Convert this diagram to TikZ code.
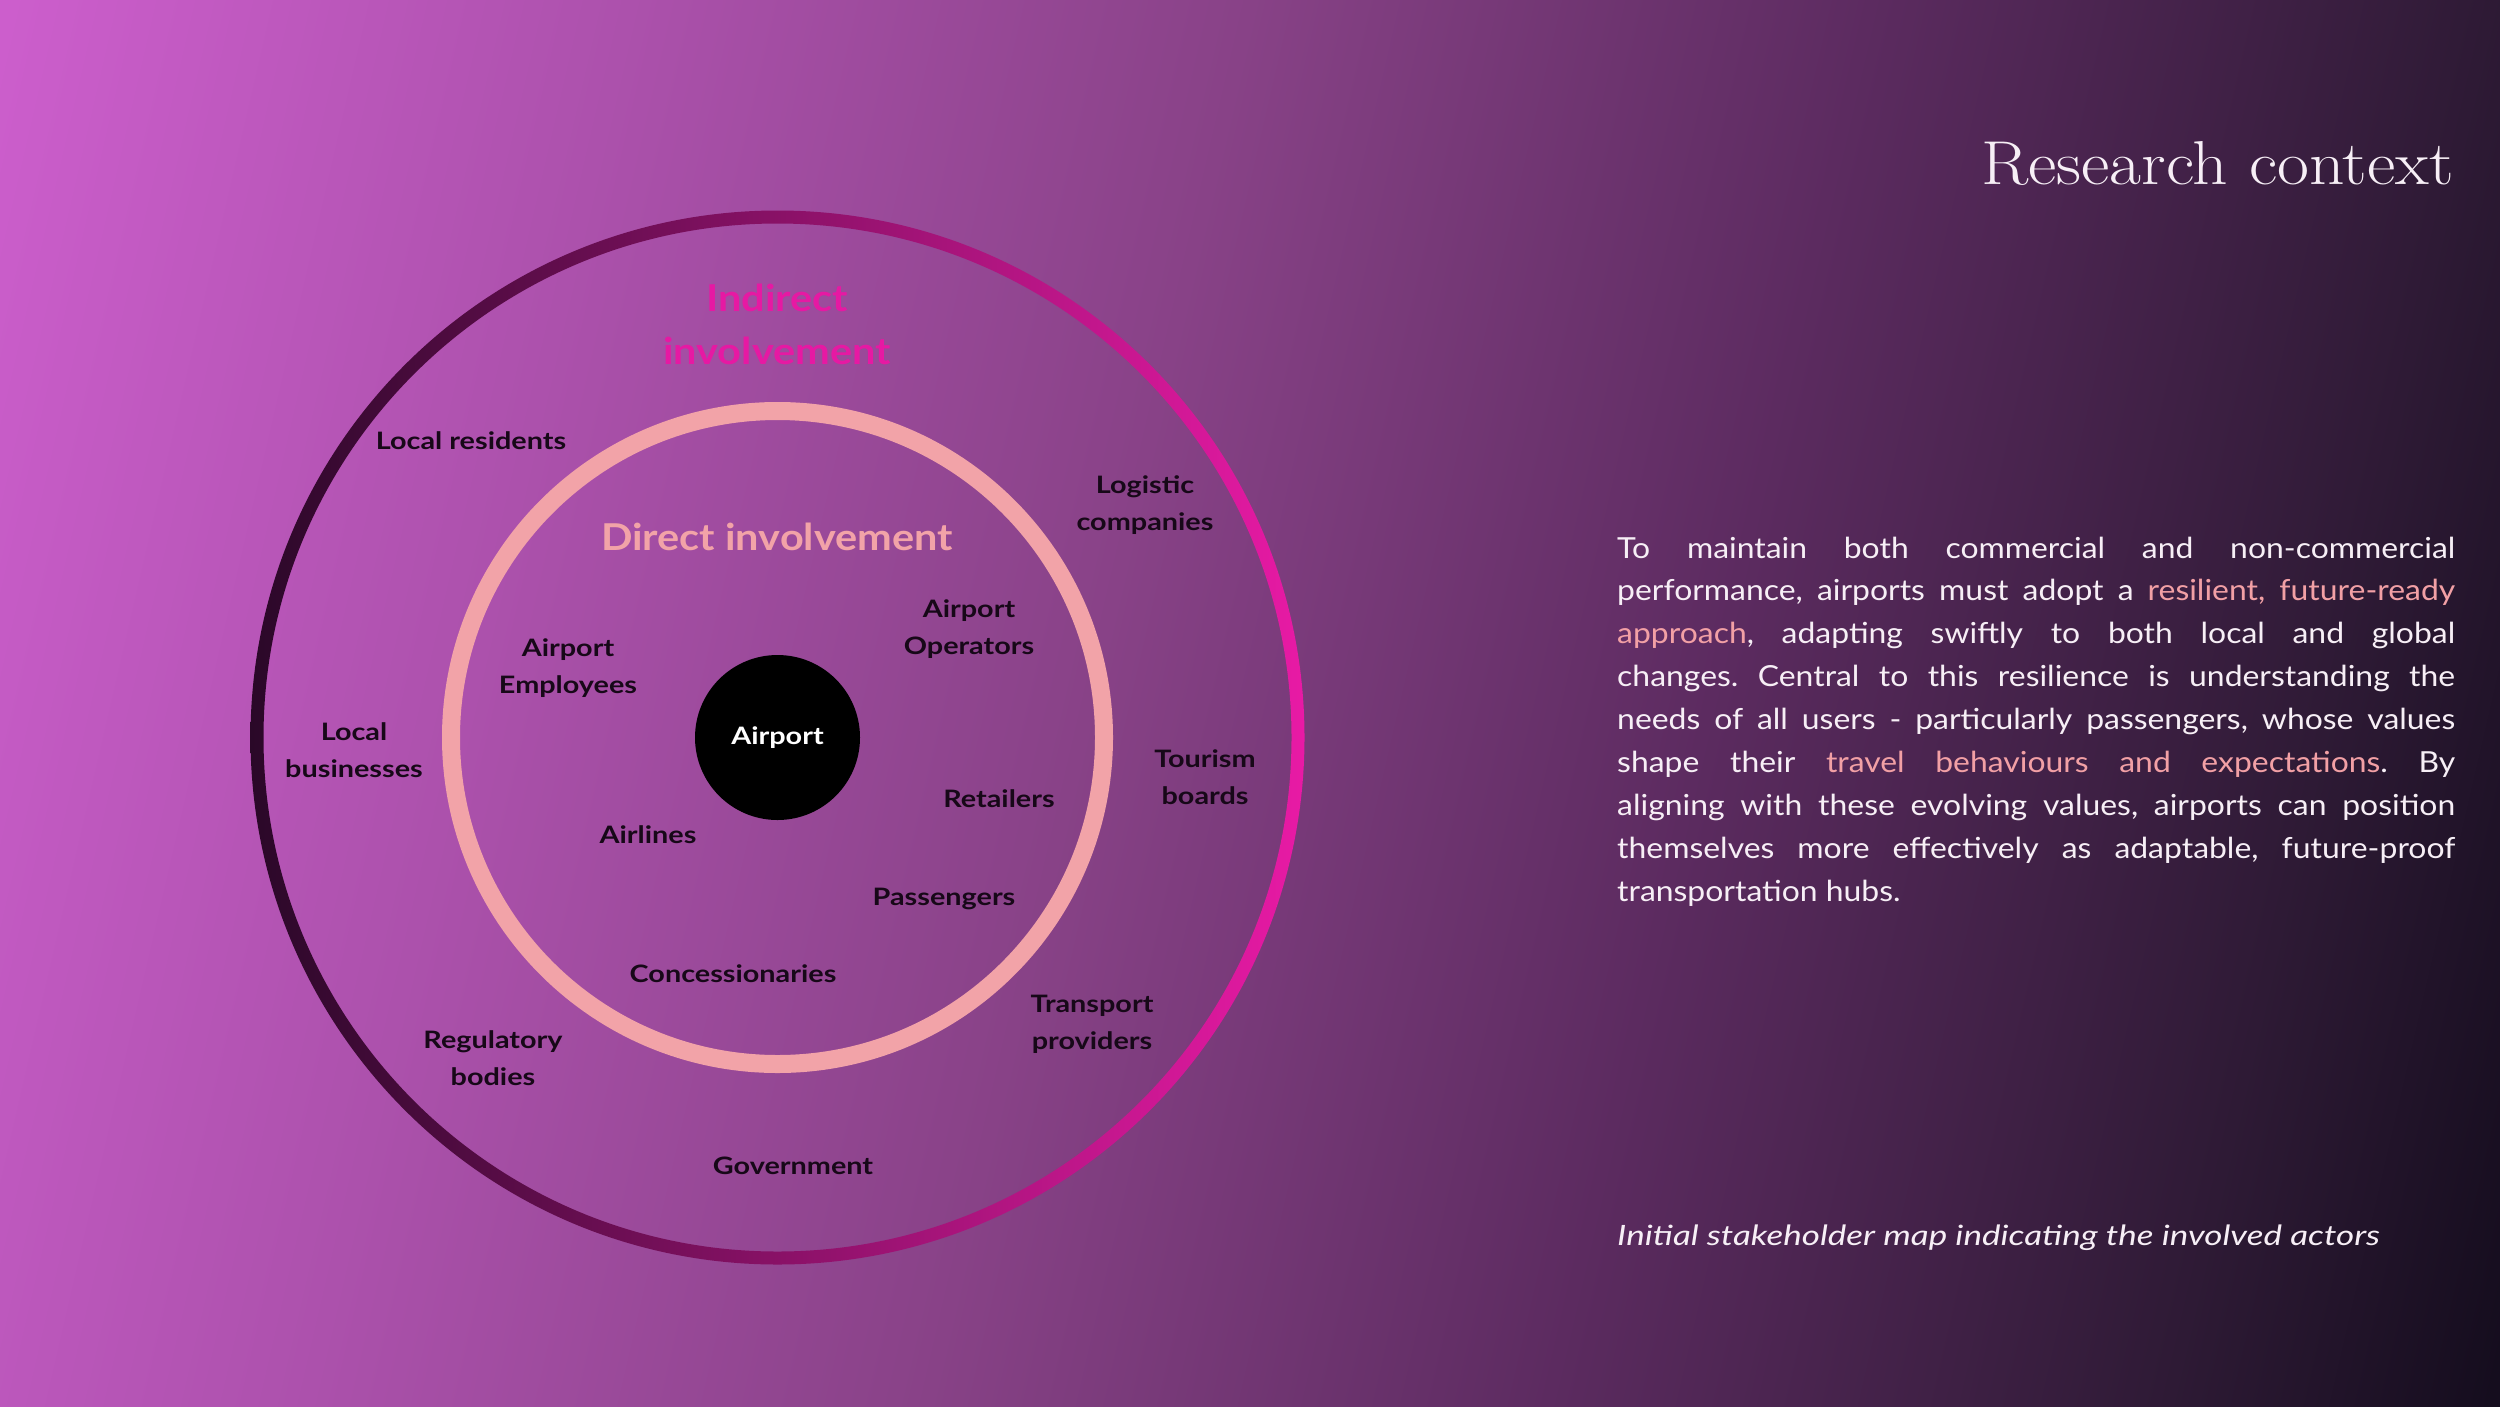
\documentclass[tikz,border=0pt]{standalone}
\usepackage{fontspec}
\newfontfamily\labf{Lato}[FakeStretch=1.2]
\newfontfamily\headf{Lato}[FakeStretch=1.12]
\newfontfamily\paraf{Lato}[FakeStretch=1.1]
\newfontfamily\capf{Lato}[FakeStretch=1.25]
\usetikzlibrary{fadings}
\definecolor{bgA}{HTML}{CC5ECC}
\definecolor{bgB}{HTML}{AC51AC}
\definecolor{bgC}{HTML}{884287}
\definecolor{bgD}{HTML}{5C2B60}
\definecolor{bgE}{HTML}{2E1A35}
\definecolor{bgF}{HTML}{150D1E}
\definecolor{ringL}{HTML}{2A0828}
\definecolor{ringR}{HTML}{E81AA5}
\definecolor{pinkc}{HTML}{F2A3A8}
\definecolor{magc}{HTML}{E619A3}
\definecolor{labc}{HTML}{170818}
\definecolor{paraw}{HTML}{F7EFF6}
\definecolor{hl}{HTML}{F2A0A5}
\pgfdeclarehorizontalshading{bgshade}{100bp}{color(0bp)=(bgA); color(25bp)=(bgA); color(36.06bp)=(bgB); color(47.13bp)=(bgC); color(58.19bp)=(bgD); color(69.25bp)=(bgE); color(75bp)=(bgF); color(100bp)=(bgF)}
\tikzset{
  lab/.style={align=center, font=\labf\bfseries\fontsize{24}{37}\selectfont, text=labc, inner sep=0pt},
  ringhead/.style={align=center, font=\headf\bfseries\fontsize{37}{53}\selectfont, inner sep=0pt},
  hub/.style={circle, fill=black, minimum size=165pt, inner sep=0pt, text=white, font=\labf\bfseries\fontsize{24}{30}\selectfont},
  bodytext/.style={font=\paraf\fontsize{29}{42.9}\selectfont, text=paraw, inner sep=0pt}
}
\begin{document}
\begin{tikzpicture}[x=1pt,y=-1pt]
\useasboundingbox (0,0) rectangle (2500,1406);
\begin{scope}
\clip (0,0) rectangle (2500,1406);
\shade[shading=bgshade, shading angle=-13] (-125.7,-672.7) rectangle (2625.7,2078.7);
\end{scope}

\coordinate (c) at (777.5,737.5);
% outer ring
\shade[left color=ringL, right color=ringR, even odd rule] (c) circle (527pt) (c) circle (514pt);
% inner ring
\draw[pinkc, line width=18pt] (c) circle (326.5pt);
% hub
\node[hub] (airport) at (c) {Airport};

% ring headings
\node[ringhead, text=magc] (indirect) at (777,324) {Indirect\\involvement};
\node[ringhead, text=pinkc] (direct) at (777,537) {Direct involvement};

% inner labels
\node[lab] (airop) at (969,629) {Airport\\Operators};
\node[lab] (airemp) at (568,668) {Airport\\Employees};
\node[lab] (retail) at (999,799) {Retailers};
\node[lab] (airlines) at (648,835) {Airlines};
\node[lab] (pass) at (944,899) {Passengers};
\node[lab] (conc) at (733,974) {Concessionaries};

% outer labels
\node[lab] (locres) at (471,441) {Local residents};
\node[lab] (logi) at (1145,505) {Logistic\\companies};
\node[lab] (locbus) at (354,750) {Local\\businesses};
\node[lab] (tour) at (1205,777) {Tourism\\boards};
\node[lab] (trans) at (1092,1024) {Transport\\providers};
\node[lab] (reg) at (493,1058) {Regulatory\\bodies};
\node[lab] (gov) at (793,1166) {Government};

% title
\node[anchor=base east, inner sep=0pt, text=paraw, font=\fontsize{62}{70}\selectfont] (title) at (2454,184) {\scalebox{1.12}[1]{Research context}};

% paragraph
\node[bodytext, anchor=base west, text width=838pt, align=justify] (para) at (1617,558) {\frenchspacing\hyphenpenalty=10000 \exhyphenpenalty=10000 \tolerance=10000
To maintain both commercial and non-commercial\linebreak
performance, airports must adopt a \textcolor{hl}{resilient, future-ready}\linebreak
\textcolor{hl}{approach}, adapting swiftly to both local and global\linebreak
changes. Central to this resilience is understanding the\linebreak
needs of all users - particularly passengers, whose values\linebreak
shape their \textcolor{hl}{travel behaviours and expectations}. By\linebreak
aligning with these evolving values, airports can position\linebreak
themselves more effectively as adaptable, future-proof\linebreak
transportation hubs.};

% caption
\node[anchor=base west, inner sep=0pt, text=paraw, font=\capf\itshape\fontsize{28}{34}\selectfont] (caption) at (1617,1245) {Initial stakeholder map indicating the involved actors};
\end{tikzpicture}
\end{document}
